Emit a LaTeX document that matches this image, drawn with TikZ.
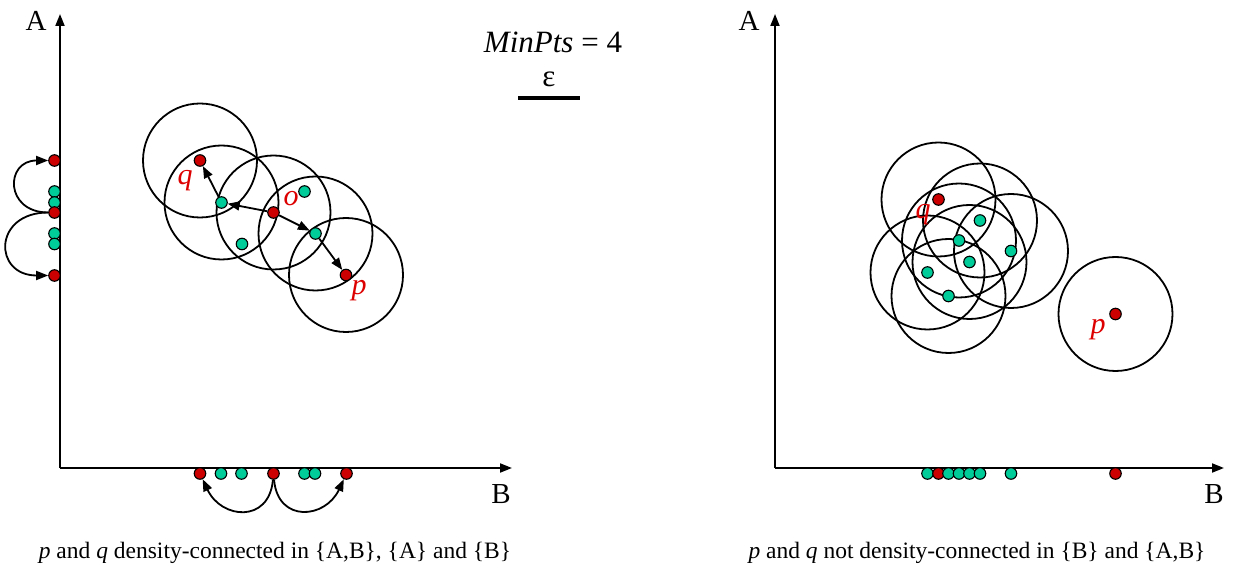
\documentclass[tikz,border=0pt]{standalone}
\usepackage{fontspec}
\setmainfont{Liberation Serif}
\usepackage{xcolor}
\usetikzlibrary{positioning, calc, arrows.meta}
\definecolor{corered}{RGB}{204,0,0}
\definecolor{memgreen}{RGB}{0,204,153}
\definecolor{labelred}{RGB}{221,0,0}

\begin{document}
\begin{tikzpicture}[x=1pt,y=-1pt,line width=1.8pt,>={Triangle[length=12pt,width=9pt]},
    core/.style={circle, draw=black, line width=1.1pt, fill=corered, inner sep=0pt, minimum size=11.5pt},
    member/.style={core, fill=memgreen},
    ptlabel/.style={text=labelred, font=\fontsize{30}{32}\selectfont\itshape},
    axislabel/.style={font=\fontsize{29}{32}\selectfont},
    caption/.style={font=\fontsize{23.5}{26}\selectfont}]

    \useasboundingbox (0,0) rectangle (1235,569);

    % --- Left Panel: Axes ---
    \coordinate (O1) at (60,468);
    \coordinate (A1end) at (60,14);
    \coordinate (B1end) at (512,468);
    \draw[->] (O1) -- (A1end);
    \draw[->] (O1) -- (B1end);
    \node[axislabel] (A1) at (36,21) {A};
    \node[axislabel] (B1) at (501,494) {B};

    % --- Left Panel: Points in {A,B} ---
    \coordinate (q) at (200,160.5);
    \coordinate (a) at (221.5,202.5);
    \coordinate (b) at (242,244);
    \coordinate (o) at (273.5,212.5);
    \coordinate (c) at (304.5,191.5);
    \coordinate (d) at (315.5,233.5);
    \coordinate (p) at (346,275);

    % epsilon neighbourhoods
    \draw (q) circle (57pt);
    \draw (a) circle (57pt);
    \draw (o) circle (57pt);
    \draw (d) circle (57pt);
    \draw (p) circle (57pt);

    \node[core]   (qdot) at (q) {};
    \node[member] (adot) at (a) {};
    \node[member] (bdot) at (b) {};
    \node[core]   (odot) at (o) {};
    \node[member] (cdot) at (c) {};
    \node[member] (ddot) at (d) {};
    \node[core]   (pdot) at (p) {};

    % density-reachability chain
    \draw[->] (adot) -- (qdot);
    \draw[->] (odot) -- (adot);
    \draw[->] (odot) -- (ddot);
    \draw[->] (ddot) -- (pdot);

    \node[ptlabel] (qlab) at (185,181) {q};
    \node[ptlabel] (olab) at (291,199) {o};
    \node[ptlabel] (plab) at (359,291) {p};

    % --- Left Panel: Projection on A ---
    \node[core]   (yq) at (54.5,160.5) {};
    \node[member] (yc) at (54.5,191.5) {};
    \node[member] (ya) at (54.5,202.5) {};
    \node[core]   (yo) at (54.5,212.5) {};
    \node[member] (yd) at (54.5,233.5) {};
    \node[member] (yb) at (54.5,244) {};
    \node[core]   (yp) at (54.5,275.5) {};
    \draw[->] (yo) to[out=180,in=180,looseness=2.15] (yq);
    \draw[->] (yo) to[out=180,in=180,looseness=2.25] (yp);

    % --- Left Panel: Projection on B ---
    \node[core]   (xq) at (200,473.5) {};
    \node[member] (xa) at (221,473.5) {};
    \node[member] (xb) at (241.5,473.5) {};
    \node[core]   (xo) at (273.5,473.5) {};
    \node[member] (xc) at (304.5,473.5) {};
    \node[member] (xd) at (315,473.5) {};
    \node[core]   (xp) at (346.5,473.5) {};
    \draw[->] (xo) to[out=-95,in=-65,looseness=1.6] (xq);
    \draw[->] (xo) to[out=-85,in=-115,looseness=1.6] (xp);

    % --- Legend ---
    \node[font=\fontsize{31}{34}\selectfont] (minpts) at (553,42) {\textit{MinPts} = 4};
    \node[font=\fontsize{31}{34}\selectfont] (epssym) at (549,79) {ε};
    \coordinate (barL) at (518,98);
    \coordinate (barR) at (580,98);
    \draw[line width=4pt] (barL) -- (barR);

    % --- Right Panel: Axes ---
    \coordinate (O2) at (775,468);
    \coordinate (A2end) at (775,14);
    \coordinate (B2end) at (1224,468);
    \draw[->] (O2) -- (A2end);
    \draw[->] (O2) -- (B2end);
    \node[axislabel] (A2) at (749,21) {A};
    \node[axislabel] (B2) at (1214,494) {B};

    % --- Right Panel: Points ---
    \coordinate (rq) at (938.5,199.5);
    \coordinate (r1) at (980,220.5);
    \coordinate (r2) at (959,240.5);
    \coordinate (r3) at (1011,251);
    \coordinate (r4) at (969.5,262);
    \coordinate (r5) at (927.5,272.5);
    \coordinate (r6) at (948.5,296);
    \coordinate (rp) at (1115.5,314);

    \draw (rq) circle (57pt);
    \draw (r1) circle (57pt);
    \draw (r2) circle (57pt);
    \draw (r3) circle (57pt);
    \draw (r4) circle (57pt);
    \draw (r5) circle (57pt);
    \draw (r6) circle (57pt);
    \draw (rp) circle (57pt);

    \node[core]   (rqdot) at (rq) {};
    \node[member] (r1dot) at (r1) {};
    \node[member] (r2dot) at (r2) {};
    \node[member] (r3dot) at (r3) {};
    \node[member] (r4dot) at (r4) {};
    \node[member] (r5dot) at (r5) {};
    \node[member] (r6dot) at (r6) {};
    \node[core]   (rpdot) at (rp) {};

    \node[ptlabel] (rqlab) at (923,215) {q};
    \node[ptlabel] (rplab) at (1098,330) {p};

    % --- Right Panel: Projection on B ---
    \node[member] (s5) at (927.5,473.5) {};
    \node[core]   (sq) at (938.5,473.5) {};
    \node[member] (s6) at (948.5,473.5) {};
    \node[member] (s2) at (959,473.5) {};
    \node[member] (s4) at (969.5,473.5) {};
    \node[member] (s1) at (980,473.5) {};
    \node[member] (s3) at (1011,473.5) {};
    \node[core]   (sp) at (1115.5,473.5) {};

    % --- Captions ---
    \node[caption] (capL) at (275,553) {\textit{p} and \textit{q} density-connected in \{A,B\}, \{A\} and \{B\}};
    \node[caption] (capR) at (977,553) {\textit{p} and \textit{q} not density-connected in \{B\} and \{A,B\}};

\end{tikzpicture}
\end{document}
